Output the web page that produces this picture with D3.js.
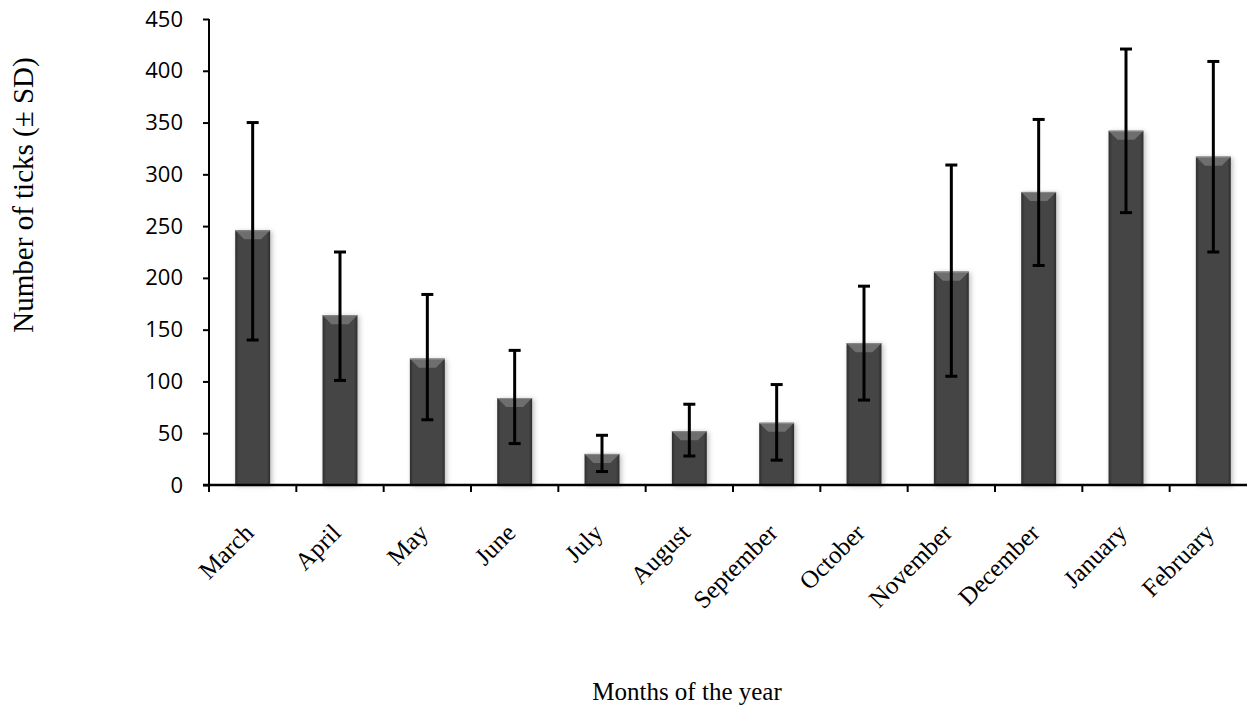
<!DOCTYPE html>
<html>
<head>
<meta charset="utf-8">
<script src="https://cdn.jsdelivr.net/npm/d3@7"></script>
<style>
  body { margin: 0; background: #fff; }
</style>
</head>
<body>
<script>
  // values
  var months = ["March", "April", "May", "June", "July", "August", "September",
                "October", "November", "December", "January", "February"];
  var meanTicks = [246, 164, 122, 84, 30, 52, 60, 137, 206, 283, 342, 317];
  var sdUpper = [350, 225, 184, 130, 48, 78, 97, 192, 309, 353, 421, 409];
  var sdLower = [140, 101, 63, 40, 13, 28, 24, 82, 105, 212, 263, 225];
  var yTicks = [0, 50, 100, 150, 200, 250, 300, 350, 400, 450];

  var W = 1247, H = 713;
  var mLeft = 209, mTop = 19, mBottom = 485, mRight = 1257;

  var svg = d3.select("body").append("svg")
      .attr("width", W).attr("height", H);

  var defs = svg.append("defs");
  var grad = defs.append("linearGradient").attr("id", "barGrad")
      .attr("x1", 0).attr("x2", 1).attr("y1", 0).attr("y2", 0);
  grad.append("stop").attr("offset", "0%").attr("stop-color", "#2e2e2e");
  grad.append("stop").attr("offset", "10%").attr("stop-color", "#454545");
  grad.append("stop").attr("offset", "90%").attr("stop-color", "#454545");
  grad.append("stop").attr("offset", "100%").attr("stop-color", "#2e2e2e");

  var f = defs.append("filter").attr("id", "shadow")
      .attr("x", "-30%").attr("y", "-10%").attr("width", "160%").attr("height", "120%");
  f.append("feDropShadow").attr("dx", 2).attr("dy", 1).attr("stdDeviation", 2.5)
      .attr("flood-color", "#000").attr("flood-opacity", 0.25);

  var x = d3.scaleBand().domain(months).range([mLeft, mRight]).paddingInner(0).paddingOuter(0);
  var y = d3.scaleLinear().domain([0, 450]).range([mBottom, mTop]);

  var data = months.map(function (m, i) {
    return { month: m, v: meanTicks[i], hi: sdUpper[i], lo: sdLower[i] };
  });

  var bw = x.bandwidth() * 0.4;

  // bars
  var bars = svg.append("g").selectAll("g").data(data).enter().append("g")
      .attr("transform", function (d) {
        return "translate(" + (x(d.month) + x.bandwidth() / 2 - bw / 2) + ",0)";
      });

  bars.append("rect")
      .attr("x", 0).attr("width", bw)
      .attr("y", function (d) { return y(d.v); })
      .attr("height", function (d) { return y(0) - y(d.v); })
      .attr("fill", "url(#barGrad)")
      .attr("filter", "url(#shadow)");

  // bevelled top edge
  bars.append("path")
      .attr("d", function (d) {
        var t = y(d.v), b = 9;
        return "M0," + t + "L" + bw + "," + t + "L" + (bw - b) + "," + (t + b) +
               "L" + b + "," + (t + b) + "Z";
      })
      .attr("fill", "#6e6e6e");
  bars.append("line")
      .attr("x1", 0).attr("x2", bw)
      .attr("y1", function (d) { return y(d.v) + 0.5; })
      .attr("y2", function (d) { return y(d.v) + 0.5; })
      .attr("stroke", "#8c8c8c").attr("stroke-width", 1);

  // error bars
  var err = svg.append("g").attr("stroke", "#000").attr("stroke-width", 3)
      .selectAll("g").data(data).enter().append("g")
      .attr("transform", function (d) {
        return "translate(" + (x(d.month) + x.bandwidth() / 2) + ",0)";
      });
  err.append("line").attr("x1", 0).attr("x2", 0)
      .attr("y1", function (d) { return y(d.hi); })
      .attr("y2", function (d) { return y(d.lo); });
  err.append("line").attr("x1", -6).attr("x2", 6)
      .attr("y1", function (d) { return y(d.hi); })
      .attr("y2", function (d) { return y(d.hi); });
  err.append("line").attr("x1", -6).attr("x2", 6)
      .attr("y1", function (d) { return y(d.lo); })
      .attr("y2", function (d) { return y(d.lo); });

  // y axis
  var yAxis = svg.append("g").attr("transform", "translate(" + mLeft + ",0)")
      .call(d3.axisLeft(y).tickValues(yTicks).tickSize(6).tickPadding(20));
  yAxis.selectAll("path, line").attr("stroke", "#000").attr("stroke-width", 2);
  yAxis.select(".domain").attr("d", "M0," + mTop + "V" + mBottom);
  yAxis.selectAll("text").attr("font-size", 22).attr("fill", "#000")
      .attr("font-family", "'Open Sans', 'Liberation Sans', sans-serif");

  // x axis
  var xAxis = svg.append("g").attr("transform", "translate(0," + mBottom + ")");
  xAxis.append("line").attr("x1", mLeft - 6).attr("x2", W)
      .attr("stroke", "#000").attr("stroke-width", 2.5);
  xAxis.selectAll(".xt").data(months.concat(["end"])).enter().append("line")
      .attr("x1", function (d, i) { return mLeft + i * x.step(); })
      .attr("x2", function (d, i) { return mLeft + i * x.step(); })
      .attr("y1", 0).attr("y2", 7)
      .attr("stroke", "#000").attr("stroke-width", 2);

  xAxis.selectAll(".lbl").data(months).enter().append("text")
      .attr("transform", function (d) {
        return "translate(" + (x(d) + x.bandwidth() / 2 - 10) + ",37) rotate(-45)";
      })
      .attr("text-anchor", "end")
      .attr("dy", "0.7em")
      .attr("font-family", "'Liberation Serif', 'Times New Roman', serif")
      .attr("font-size", 25)
      .text(function (d) { return d; });

  // axis titles
  svg.append("text")
      .attr("x", 687).attr("y", 700)
      .attr("text-anchor", "middle")
      .attr("font-family", "'Liberation Serif', 'Times New Roman', serif")
      .attr("font-size", 25)
      .text("Months of the year");

  svg.append("text")
      .attr("transform", "translate(33,195) rotate(-90)")
      .attr("text-anchor", "middle")
      .attr("font-family", "'Liberation Serif', 'Times New Roman', serif")
      .attr("font-size", 29)
      .text("Number of ticks (± SD)");
</script>
</body>
</html>
